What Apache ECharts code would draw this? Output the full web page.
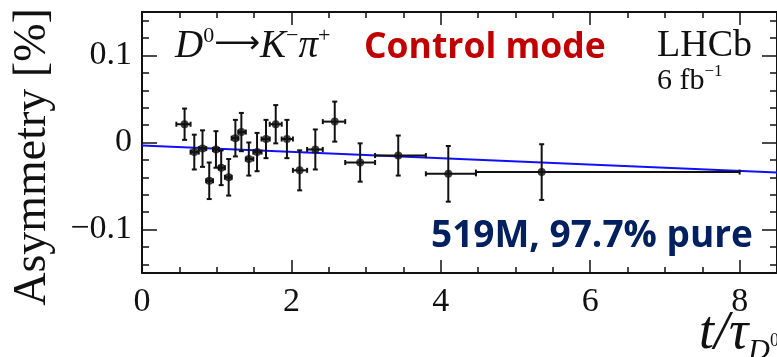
<!DOCTYPE html>
<html>
<head>
<meta charset="utf-8">
<script src="https://cdn.jsdelivr.net/npm/echarts@6/dist/echarts.min.js"></script>
<style>
  html, body { margin: 0; padding: 0; background: #fff; }
  #chart { width: 777px; height: 357px; }
</style>
</head>
<body>
<div id="chart"></div>
<script>
// decay time bins (t / tau) and measured asymmetry in %
var tVals   = [0.57, 0.70, 0.81, 0.90, 0.99, 1.06, 1.16, 1.25, 1.33, 1.43, 1.54, 1.66, 1.79, 1.94, 2.11, 2.32, 2.58, 2.92, 3.43, 4.10, 5.35];
var asym    = [0.021, -0.011, -0.007, -0.044, -0.008, -0.029, -0.040, 0.005, 0.012, -0.019, -0.011, 0.004, 0.021, 0.004, -0.032, -0.008, 0.024, -0.023, -0.015, -0.036, -0.034];
var asymErr = [0.018, 0.020, 0.021, 0.021, 0.021, 0.020, 0.021, 0.021, 0.022, 0.019, 0.022, 0.022, 0.022, 0.022, 0.023, 0.023, 0.023, 0.022, 0.023, 0.032, 0.032];
var binLo   = [0.46, 0.65, 0.76, 0.86, 0.95, 1.03, 1.11, 1.20, 1.29, 1.39, 1.49, 1.60, 1.71, 1.87, 2.02, 2.21, 2.42, 2.72, 3.12, 3.80, 4.47];
var binHi   = [0.65, 0.76, 0.86, 0.95, 1.03, 1.11, 1.20, 1.29, 1.39, 1.49, 1.60, 1.71, 1.87, 2.02, 2.21, 2.42, 2.72, 3.12, 3.80, 4.47, 8.00];

// straight-line fit
var fitT = [0, 8.5];
var fitA = [-0.0035, -0.0345];

// tick labels
var xTickLabels = [0, 2, 4, 6, 8];
var yMajorTicks = [-0.1, 0, 0.1];
var yMinorTicks = [-0.14, -0.12, -0.08, -0.06, -0.04, -0.02, 0.02, 0.04, 0.06, 0.08, 0.12, 0.14];

var serif = '"Liberation Serif", "DejaVu Serif", serif';
var sans = '"Open Sans", "Noto Sans", sans-serif';

var points = [], bars = [];
for (var i = 0; i < tVals.length; i++) {
	points.push([tVals[i], asym[i]]);
	bars.push([tVals[i], asym[i], asymErr[i], binLo[i], binHi[i]]);
}
var fitData = [[fitT[0], fitA[0]], [fitT[1], fitA[1]]];

function fmtY(v) {
	if (v === 0) return '0';
	return v < 0 ? '\u2212' + Math.abs(v) : String(v);
}

function renderErr(params, api) {
	var t = api.value(0), a = api.value(1), e = api.value(2);
	var lo = api.value(3), hi = api.value(4);
	var top = api.coord([t, a + e]), bot = api.coord([t, a - e]);
	var left = api.coord([lo, a]), right = api.coord([hi, a]);
	var c = 2.5;
	var st = { stroke: '#111', lineWidth: 2 };
	return {
		type: 'group',
		children: [
			{ type: 'line', shape: { x1: top[0], y1: top[1], x2: bot[0], y2: bot[1] }, style: st },
			{ type: 'line', shape: { x1: top[0] - c, y1: top[1], x2: top[0] + c, y2: top[1] }, style: st },
			{ type: 'line', shape: { x1: bot[0] - c, y1: bot[1], x2: bot[0] + c, y2: bot[1] }, style: st },
			{ type: 'line', shape: { x1: left[0], y1: left[1], x2: right[0], y2: right[1] }, style: st },
			{ type: 'line', shape: { x1: left[0], y1: left[1] - c, x2: left[0], y2: left[1] + c }, style: st },
			{ type: 'line', shape: { x1: right[0], y1: right[1] - c, x2: right[0], y2: right[1] + c }, style: st }
		]
	};
}

var axisLine = { show: true, onZero: false, lineStyle: { color: '#111', width: 2 } };
var noLine = { show: false, onZero: false };
var tickStyle = { color: '#111', width: 1.5 };

var chart = echarts.init(document.getElementById('chart'));
var option = {
	backgroundColor: '#fff',
	animation: false,
	grid: { left: 142, top: 12, width: 639, height: 261 },
	xAxis: [
		{
			type: 'value', position: 'bottom', min: 0, max: 8.5, interval: 2,
			axisLine: axisLine,
			axisTick: { inside: true, length: 13, lineStyle: tickStyle },
			minorTick: { show: true, splitNumber: 4, length: 6, lineStyle: tickStyle },
			axisLabel: { customValues: xTickLabels, margin: 12, fontFamily: serif, fontSize: 34, color: '#111' },
			splitLine: { show: false }
		},
		{
			type: 'value', position: 'top', min: 0, max: 8.5, interval: 2,
			axisLine: axisLine,
			axisTick: { inside: true, length: 13, lineStyle: tickStyle },
			minorTick: { show: true, splitNumber: 4, length: 6, lineStyle: tickStyle },
			axisLabel: { show: false },
			splitLine: { show: false }
		}
	],
	yAxis: [
		{
			type: 'value', position: 'left', min: -0.15, max: 0.15,
			axisLine: axisLine,
			axisTick: { customValues: yMajorTicks, inside: true, length: 15, lineStyle: tickStyle },
			axisLabel: { customValues: yMajorTicks, formatter: fmtY, margin: 10, fontFamily: serif, fontSize: 34, color: '#111' },
			splitLine: { show: false }
		},
		{
			type: 'value', position: 'left', min: -0.15, max: 0.15,
			axisLine: noLine,
			axisTick: { customValues: yMinorTicks, inside: true, length: 7, lineStyle: tickStyle },
			axisLabel: { show: false },
			splitLine: { show: false }
		},
		{
			type: 'value', position: 'right', min: -0.15, max: 0.15,
			axisLine: axisLine,
			axisTick: { customValues: yMajorTicks, inside: true, length: 15, lineStyle: tickStyle },
			axisLabel: { show: false },
			splitLine: { show: false }
		},
		{
			type: 'value', position: 'right', min: -0.15, max: 0.15,
			axisLine: noLine,
			axisTick: { customValues: yMinorTicks, inside: true, length: 7, lineStyle: tickStyle },
			axisLabel: { show: false },
			splitLine: { show: false }
		}
	],
	graphic: [
		{
			type: 'text', x: 33, y: 157, rotation: Math.PI / 2,
			style: { text: 'Asymmetry [%]', font: '46px ' + serif, fill: '#111', align: 'center', verticalAlign: 'middle' }
		},
		{
			type: 'text', x: 175, y: 47,
			style: {
				text: '{i|D}{s|0}{n|\u27f6}{i|K}{s|\u2212}{i|\u03c0}{s|+}',
				verticalAlign: 'middle', fill: '#111',
				rich: {
					i: { fontFamily: serif, fontStyle: 'italic', fontSize: 39, fill: '#111' },
					n: { fontFamily: '"DejaVu Sans", sans-serif', fontSize: 32, fill: '#111', padding: [0, 0, 4, 0] },
					s: { fontFamily: serif, fontSize: 22, fill: '#111', padding: [0, 0, 22, 0] }
				}
			}
		},
		{
			type: 'text', x: 364, y: 48,
			style: { text: 'Control mode', font: 'bold 35.5px ' + sans, fill: '#C00000', verticalAlign: 'middle' }
		},
		{
			type: 'text', x: 657, y: 46,
			style: { text: 'LHCb', font: '38px ' + serif, fill: '#111', verticalAlign: 'middle' }
		},
		{
			type: 'text', x: 657, y: 81,
			style: {
				text: '{a|6 fb}{s|\u22121}',
				verticalAlign: 'middle', fill: '#111',
				rich: {
					a: { fontFamily: serif, fontSize: 30, fill: '#111' },
					s: { fontFamily: serif, fontSize: 17, fill: '#111', padding: [0, 0, 18, 0] }
				}
			}
		},
		{
			type: 'text', x: 431, y: 236,
			style: { text: '519M, 97.7% pure', font: 'bold 37px ' + sans, fill: '#002060', verticalAlign: 'middle' }
		},
		{
			type: 'text', x: 699, y: 334,
			style: {
				text: '{i|t/\u03c4}{s|D}{z|0}',
				verticalAlign: 'middle', fill: '#111',
				rich: {
					i: { fontFamily: serif, fontStyle: 'italic', fontSize: 54, fill: '#111' },
					s: { fontFamily: serif, fontStyle: 'italic', fontSize: 30, fill: '#111', padding: [34, 0, 0, 0] },
					z: { fontFamily: serif, fontSize: 18, fill: '#111', padding: [14, 0, 0, 0] }
				}
			}
		}
	],
	series: [
		{
			type: 'line', data: fitData, xAxisIndex: 0, yAxisIndex: 0,
			symbol: 'none', z: 1,
			lineStyle: { color: '#1010ff', width: 2 }
		},
		{
			type: 'custom', data: bars, xAxisIndex: 0, yAxisIndex: 0,
			renderItem: renderErr, z: 2
		},
		{
			type: 'scatter', data: points, xAxisIndex: 0, yAxisIndex: 0,
			symbol: 'circle', symbolSize: 8, z: 3,
			itemStyle: { color: '#111' }
		}
	]
};
chart.setOption(option);
</script>
</body>
</html>
